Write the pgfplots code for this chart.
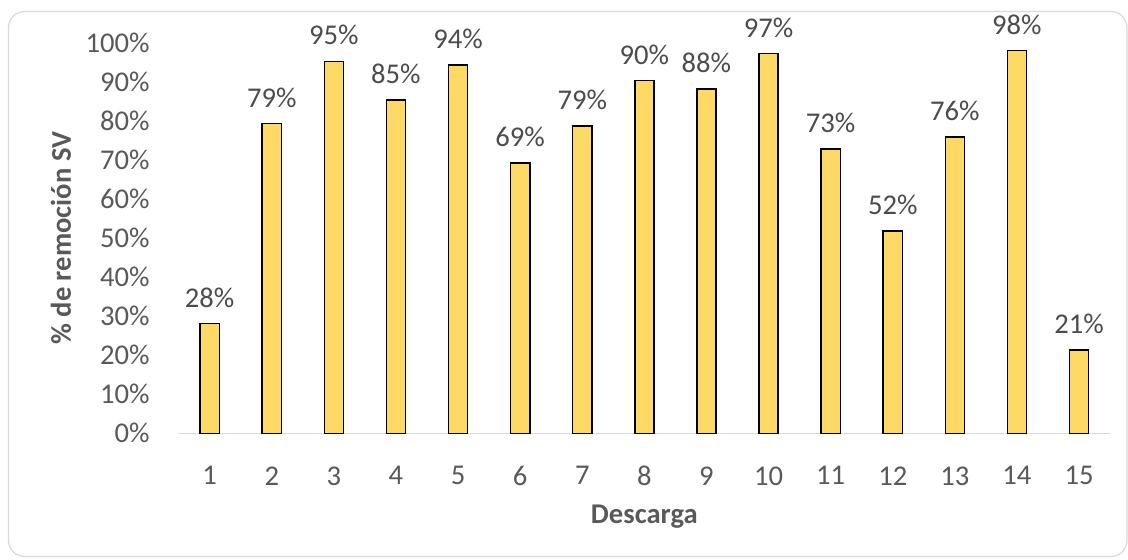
\documentclass[border=0pt]{standalone}
\usepackage{fontspec}
\setmainfont{Carlito}
\usepackage{pgfplots}
\pgfplotsset{compat=1.18}
\definecolor{barfill}{HTML}{FFD966}
\definecolor{txtgray}{HTML}{595959}
\definecolor{linegray}{HTML}{D9D9D9}
\begin{document}
\fontsize{14}{16}\selectfont
\begin{tikzpicture}
% page frame and rounded chart border
\useasboundingbox (-89.3pt,-62.85pt) rectangle (474.7pt,216.65pt);
\draw[linegray, line width=0.6pt, rounded corners=8pt] (-85.05pt,-61.6pt) rectangle (474.2pt,210.9pt);
\begin{axis}[
  at={(0pt,0pt)}, anchor=origin,
  scale only axis,
  width=465.75pt, height=195.15pt,
  ybar, bar width=9.6pt,
  xmin=0.5, xmax=15.5,
  ymin=0, ymax=100,
  axis x line*=bottom,
  axis y line*=left,
  x axis line style={linegray, line width=0.7pt, -},
  y axis line style={draw=none},
  xtick=data,
  ytick={0,10,...,100},
  major tick length=0pt,
  clip=false,
  /pgf/number format/assume math mode=true,
  ticklabel style={text=txtgray, font=\fontsize{14.3}{16}\selectfont},
  yticklabel={\pgfmathprintnumber{\tick}\%},
  yticklabel style={anchor=east, xshift=-9.6pt},
  xticklabel style={anchor=north, yshift=-11.7pt},
  xlabel={\textbf{Descarga}},
  ylabel={\textbf{\% de remoción SV}},
  xlabel style={at={(axis description cs:0.5,-0.2137)}, anchor=center, text=txtgray, font=\fontsize{14.3}{16}\selectfont},
  ylabel style={at={(axis description cs:-0.1262,0.5)}, anchor=center, text=txtgray, font=\fontsize{14.3}{16}\selectfont},
  nodes near coords={\pgfmathprintnumber[fixed,precision=0]{\pgfplotspointmeta}\%},
  nodes near coords style={anchor=center, yshift=13pt, text=txtgray!85!black, font=\fontsize{14.3}{16}\selectfont},
]
\addplot[fill=barfill, draw=black, line width=0.75pt] coordinates {
  (1,28.1) (2,79.4) (3,95.3) (4,85.4) (5,94.4)
  (6,69.3) (7,78.8) (8,90.4) (9,88.2) (10,97.3)
  (11,72.9) (12,51.8) (13,75.9) (14,98.1) (15,21.4)
};
\end{axis}
\end{tikzpicture}
\end{document}
